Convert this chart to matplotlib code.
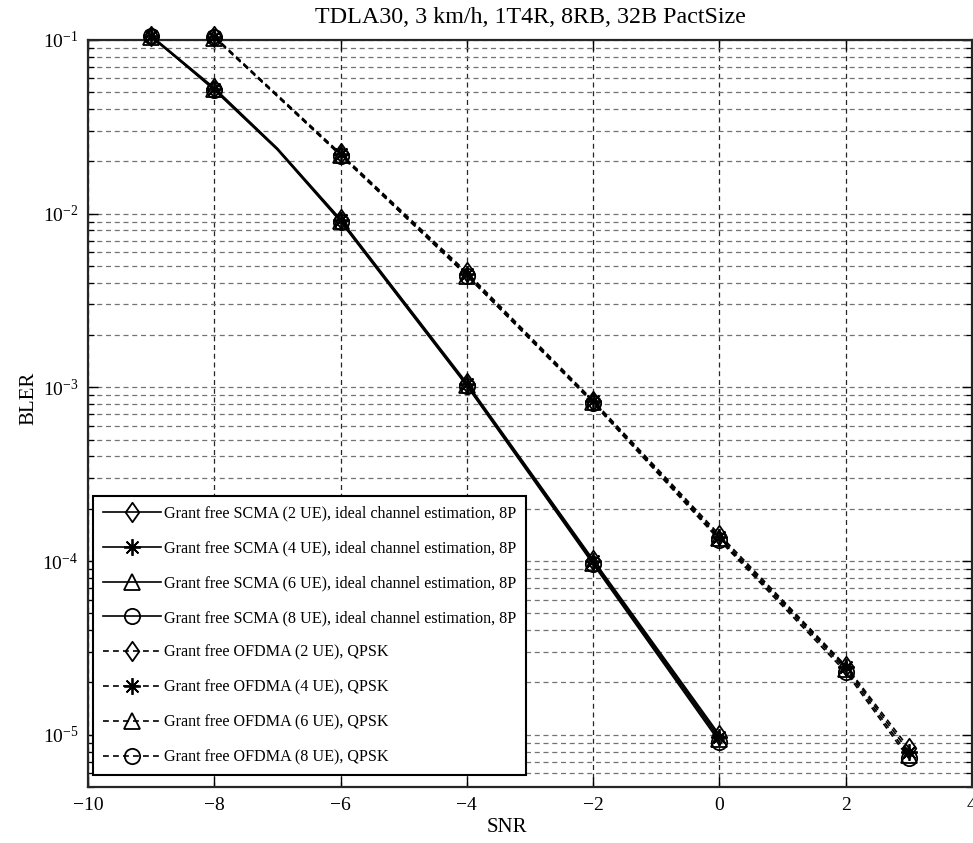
import matplotlib
matplotlib.use('Agg')
import matplotlib.pyplot as plt
from matplotlib.path import Path
from matplotlib.ticker import LogLocator, NullFormatter

plt.rcParams['font.family'] = ['Liberation Serif', 'DejaVu Serif']
plt.rcParams['mathtext.fontset'] = 'stix'

# SNR points (SCMA curves have an extra unmarked point at -7 dB)
snr_scma = [-9, -8, -7, -6, -4, -2, 0]
snr_ofdma = [-8, -6, -4, -2, 0, 2, 3]

# BLER values
scma_2ue = [0.106, 0.053, 0.0238, 0.0093, 0.00106, 1.02e-4, 1.0e-5]
scma_4ue = [0.105, 0.052, 0.0235, 0.0092, 0.00104, 1.0e-4, 9.7e-6]
scma_6ue = [0.104, 0.0525, 0.0236, 0.0091, 0.00103, 9.8e-5, 9.4e-6]
scma_8ue = [0.105, 0.0515, 0.0233, 0.0090, 0.00102, 9.6e-5, 9.1e-6]

ofdma_2ue = [0.105, 0.0222, 0.0046, 8.4e-4, 1.42e-4, 2.5e-5, 8.4e-6]
ofdma_4ue = [0.104, 0.0220, 0.0045, 8.3e-4, 1.38e-4, 2.45e-5, 8.0e-6]
ofdma_6ue = [0.103, 0.0218, 0.0044, 8.2e-4, 1.35e-4, 2.38e-5, 7.6e-6]
ofdma_8ue = [0.104, 0.0216, 0.0044, 8.1e-4, 1.32e-4, 2.3e-5, 7.3e-6]

scma_labels = ['Grant free SCMA (%d UE), ideal channel estimation, 8P' % n for n in (2, 4, 6, 8)]
ofdma_labels = ['Grant free OFDMA (%d UE), QPSK' % n for n in (2, 4, 6, 8)]

# matlab-like diamond (wider than matplotlib's thin 'd')
diamond = Path([(0, 1), (0.7, 0), (0, -1), (-0.7, 0), (0, 1)],
               [Path.MOVETO, Path.LINETO, Path.LINETO, Path.LINETO, Path.CLOSEPOLY])
asterisk = (8, 2, 0)
markers = [diamond, asterisk, '^', 'o']
msizes = [14, 12, 12, 11]

fig = plt.figure(figsize=(9.73, 8.43), dpi=100)
ax = fig.add_axes([0.0904, 0.0664, 0.9085, 0.8862])

for vals, lab, mk, ms in zip([scma_2ue, scma_4ue, scma_6ue, scma_8ue], scma_labels, markers, msizes):
    ax.plot(snr_scma, vals, color='black', linestyle='-', linewidth=1.2,
            marker=mk, markersize=ms, markerfacecolor='none', markeredgecolor='black',
            markeredgewidth=1.3, markevery=[0, 1, 3, 4, 5, 6], label=lab, clip_on=False, zorder=3)

for vals, lab, mk, ms in zip([ofdma_2ue, ofdma_4ue, ofdma_6ue, ofdma_8ue], ofdma_labels, markers, msizes):
    ax.plot(snr_ofdma, vals, color='black', linestyle=(0, (3.5, 2.5)), linewidth=1.2,
            marker=mk, markersize=ms, markerfacecolor='none', markeredgecolor='black',
            markeredgewidth=1.3, label=lab, clip_on=False, zorder=3)

ax.set_yscale('log')
ax.set_xlim(-10, 4)
ax.set_ylim(5e-6, 1e-1)
ax.set_xticks([-10, -8, -6, -4, -2, 0, 2, 4])
ax.set_xticklabels(['\u221210', '\u22128', '\u22126', '\u22124', '\u22122', '0', '2', '4'])
ax.yaxis.set_major_locator(LogLocator(base=10, numticks=10))
ax.yaxis.set_minor_locator(LogLocator(base=10, subs=range(2, 10), numticks=20))
ax.yaxis.set_minor_formatter(NullFormatter())

ax.tick_params(which='both', direction='in', top=True, right=True, colors='black')
ax.tick_params(which='major', length=7, width=1.0, labelsize=14, pad=7)
ax.tick_params(which='minor', length=4, width=0.9)

ax.grid(True, which='major', axis='x', color='0.15', linestyle=(0, (4, 3)), linewidth=0.9)
ax.grid(True, which='both', axis='y', color='0.45', linestyle=(0, (4, 3)), linewidth=0.9)
ax.set_axisbelow(True)

for sp in ax.spines.values():
    sp.set_linewidth(1.6)
    sp.set_color('0.15')

ax.set_title('TDLA30, 3 km/h, 1T4R, 8RB, 32B PactSize', fontsize=17.3, pad=12)
ax.set_xlabel('SNR', fontsize=15)
ax.set_ylabel('BLER', fontsize=15)
ax.xaxis.set_label_coords(0.474, -0.041)
ax.yaxis.set_label_coords(-0.056, 0.52)

leg = ax.legend(loc='lower left', bbox_to_anchor=(0.0057, 0.016), borderaxespad=0,
                fontsize=11.6, frameon=True, fancybox=False, framealpha=1,
                edgecolor='black', handlelength=3.6, handletextpad=0.2,
                labelspacing=1.17, borderpad=0.6)
leg.get_frame().set_linewidth(1.5)

fig.savefig('out.png', dpi=100)
